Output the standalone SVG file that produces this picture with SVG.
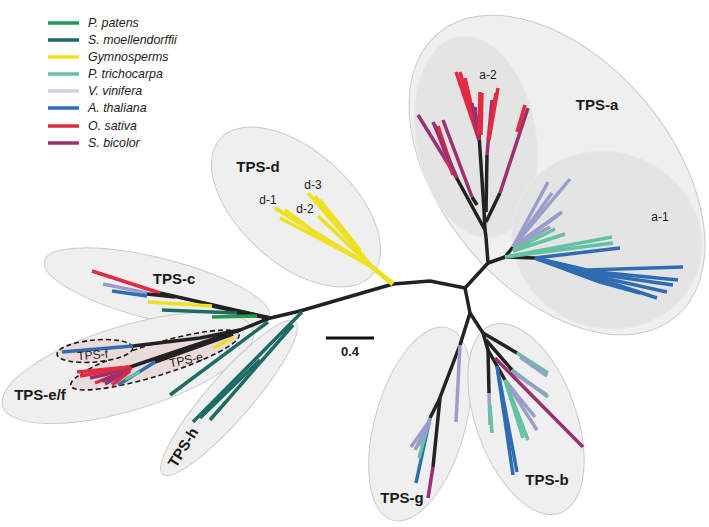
<svg xmlns="http://www.w3.org/2000/svg" width="709" height="527" viewBox="0 0 709 527">
<style>
.bg{fill:#efefef;stroke:#cbcbcb;stroke-width:1}
.in{fill:#e4e4e4;stroke:#eaeaea;stroke-width:1}
.dash{fill:#eadada;stroke:#1a1a1a;stroke-width:1.6;stroke-dasharray:5 3}
.b{fill:none;stroke-width:3.5;stroke-linecap:butt;stroke-linejoin:round}
.K{stroke:#222}
.Y{stroke:#f0e024}
.T{stroke:#1e6b66}
.G{stroke:#1f9a4a}
.M{stroke:#62c2a2}
.L{stroke:#9a9ccb}
.LL{stroke:#cdd0e2}
.B{stroke:#2f6cb2}
.R{stroke:#e32a40}
.P{stroke:#9a2f72}
.lt{font-family:"Liberation Sans",Arial,sans-serif;font-size:12.4px;font-style:italic;fill:#1a1a1a}
.cl{font-family:"Liberation Sans",Arial,sans-serif;font-size:15px;font-weight:bold;fill:#1a1a1a;text-anchor:middle}
.sub{font-family:"Liberation Sans",Arial,sans-serif;font-size:12px;fill:#1a1a1a;text-anchor:middle}
</style>
<rect width="709" height="527" fill="#ffffff"/>
<g id="legend">
<line class="b G" x1="48" y1="23" x2="79" y2="23"/><text class="lt" x="88" y="27">P. patens</text>
<line class="b T" x1="48" y1="40" x2="79" y2="40"/><text class="lt" x="88" y="44">S. moellendorffii</text>
<line class="b Y" x1="48" y1="57" x2="79" y2="57"/><text class="lt" x="88" y="61">Gymnosperms</text>
<line class="b M" x1="48" y1="74" x2="79" y2="74"/><text class="lt" x="88" y="78">P. trichocarpa</text>
<line class="b LL" x1="48" y1="91" x2="79" y2="91"/><text class="lt" x="88" y="95">V. vinifera</text>
<line class="b B" x1="48" y1="108" x2="79" y2="108"/><text class="lt" x="88" y="112">A. thaliana</text>
<line class="b R" x1="48" y1="126" x2="79" y2="126"/><text class="lt" x="88" y="130">O. sativa</text>
<line class="b P" x1="48" y1="143" x2="79" y2="143"/><text class="lt" x="88" y="147">S. bicolor</text>
</g>
<g id="regions">
<ellipse class="bg" cx="557" cy="175" rx="185" ry="115" transform="rotate(50 557 175)"/>
<ellipse class="in" cx="476" cy="137" rx="60" ry="102" transform="rotate(-10 476 137)"/>
<ellipse class="in" cx="607" cy="240" rx="96" ry="88" transform="rotate(20 607 240)"/>
<ellipse class="bg" cx="296" cy="207" rx="102" ry="56" transform="rotate(42 296 207)"/>
<ellipse class="bg" cx="157" cy="289" rx="116" ry="31" transform="rotate(14 157 289)"/>
<ellipse class="bg" cx="128" cy="368" rx="131" ry="42" transform="rotate(-17 128 368)"/>
<ellipse class="bg" cx="229" cy="398" rx="101" ry="22" transform="rotate(-49 229 398)"/>
<ellipse class="bg" cx="420" cy="424" rx="45" ry="100" transform="rotate(16 420 424)"/>
<ellipse class="bg" cx="526" cy="419" rx="50" ry="100" transform="rotate(-20 526 419)"/>
<ellipse class="dash" cx="155" cy="360" rx="88" ry="16" transform="rotate(-17 155 360)"/>
<ellipse class="dash" cx="95" cy="351" rx="38" ry="11" transform="rotate(-5 95 351)"/>
</g>
<g id="tree">
<!-- backbone -->
<path class="b K" d="M262,320 L300,311 L393,284 L430,281 L465,288 L488,263 L486,237"/>
<path class="b K" d="M465,288 L470,313 L483,333"/>
<!-- TPS-a / a-2 -->
<path class="b K" d="M486,237 L485,230 L455,175"/>
<path class="b P" d="M455,175 L418,115"/>
<path class="b R" d="M453,175 L435,125"/>
<path class="b R" d="M450,162 L438,126"/>
<path class="b P" d="M457,178 L433,122"/>
<path class="b K" d="M477,205 L472,197"/>
<path class="b P" d="M472,197 L443,120"/>
<path class="b K" d="M485,230 L484,210 L479,135"/>
<path class="b R" d="M479,140 L456,72"/>
<path class="b R" d="M479,140 L460,72"/>
<path class="b R" d="M477,130 L465,78"/>
<path class="b P" d="M479,140 L472,103"/>
<path class="b P" d="M479,140 L475,107"/>
<path class="b R" d="M479,135 L480,92"/>
<path class="b R" d="M481,135 L482,93"/>
<path class="b K" d="M486,212 L487,155"/>
<path class="b P" d="M487,155 L492,100"/>
<path class="b R" d="M489,140 L498,88"/>
<path class="b R" d="M488,140 L496,93"/>
<path class="b K" d="M486,222 L500,193"/>
<path class="b P" d="M500,193 L528,108"/>
<path class="b R" d="M517,132 L525,105"/>
<!-- a-1 -->
<path class="b K" d="M488,263 L505,257 L535,258"/>
<path class="b K" d="M505,257 L513,247"/>
<path class="b L" d="M513,247 L548,182"/>
<path class="b L" d="M513,247 L570,179"/>
<path class="b L" d="M513,247 L552,193"/>
<path class="b L" d="M513,247 L562,212"/>
<path class="b L" d="M513,247 L557,216"/>
<path class="b L" d="M513,247 L550,227"/>
<path class="b M" d="M513,250 L555,229"/>
<path class="b M" d="M513,251 L565,234"/>
<path class="b M" d="M505,257 L612,237"/>
<path class="b M" d="M505,257 L613,243"/>
<path class="b B" d="M535,258 L620,248"/>
<path class="b B" d="M535,258 L587,270 L683,267"/>
<path class="b B" d="M535,258 L587,271 L678,280"/>
<path class="b B" d="M535,258 L590,273 L673,285"/>
<path class="b B" d="M535,258 L590,275 L667,292"/>
<path class="b B" d="M535,258 L590,276 L657,298"/>
<path class="b B" d="M535,258 L600,282 L640,293"/>
<!-- TPS-g -->
<path class="b K" d="M470,313 L460,345 L439,400 L430,418"/>
<path class="b L" d="M460,345 L456,422"/>
<path class="b B" d="M430,418 L416,483"/>
<path class="b M" d="M430,418 L419,458"/>
<path class="b L" d="M430,420 L411,447"/>
<path class="b L" d="M429,423 L415,450"/>
<path class="b L" d="M430,422 L418,446"/>
<path class="b K" d="M440,398 L433,467"/>
<path class="b P" d="M433,467 L428,498"/>
<!-- TPS-b -->
<path class="b K" d="M483,333 L517,353"/>
<path class="b M" d="M517,353 L548,373"/>
<path class="b L" d="M520,357 L547,376"/>
<path class="b K" d="M483,333 L488,350 L489,393"/>
<path class="b L" d="M489,393 L490,425"/>
<path class="b M" d="M490,405 L492,433"/>
<path class="b K" d="M486,340 L512,370"/>
<path class="b M" d="M512,370 L548,397"/>
<path class="b L" d="M512,372 L547,395"/>
<path class="b K" d="M488,350 L505,380"/>
<path class="b L" d="M505,380 L537,430"/>
<path class="b L" d="M505,380 L535,417"/>
<path class="b M" d="M505,380 L528,440"/>
<path class="b M" d="M505,380 L523,438"/>
<path class="b P" d="M495,358 L583,447"/>
<path class="b B" d="M497,366 L513,475"/>
<path class="b B" d="M497,366 L517,472"/>
<!-- TPS-d -->
<path class="b Y" style="stroke-width:5" d="M393,284 L372,267"/>
<path class="b Y" style="stroke-width:4" d="M372,267 L275,208"/>
<path class="b Y" d="M345,252 L280,218"/>
<path class="b Y" d="M330,244 L285,210"/>
<path class="b Y" d="M372,267 L308,193"/>
<path class="b Y" d="M372,267 L315,196"/>
<path class="b Y" d="M360,250 L320,200"/>
<path class="b Y" d="M372,267 L318,216"/>
<path class="b Y" style="stroke-width:4" d="M372,267 L325,240"/>
<!-- TPS-c -->
<path class="b K" d="M270,318 L160,293"/>
<path class="b R" d="M160,293 L92,271"/>
<path class="b K" d="M175,297 L147,294"/>
<path class="b L" d="M147,293 L103,284"/>
<path class="b B" d="M147,296 L112,291"/>
<path class="b K" d="M270,318 L212,306"/>
<path class="b Y" d="M212,306 L148,302"/>
<path class="b K" d="M270,318 L237,313"/>
<path class="b T" d="M237,313 L162,310"/>
<path class="b G" d="M257,316 L212,317"/>
<!-- TPS-e/f -->
<path class="b K" d="M270,318 L240,330 L200,338 L133,346"/>
<path class="b B" d="M133,346 L62,352"/>
<path class="b K" d="M240,330 L130,367"/>
<path class="b K" d="M233,334 L155,362"/>
<path class="b R" d="M130,367 L77,372"/>
<path class="b R" d="M130,367 L80,376"/>
<path class="b P" d="M130,369 L90,378"/>
<path class="b R" d="M132,368 L95,383"/>
<path class="b P" d="M130,370 L102,381"/>
<path class="b P" d="M130,370 L105,384"/>
<path class="b R" d="M130,371 L112,385"/>
<path class="b R" d="M130,367 L88,372"/>
<path class="b B" d="M155,362 L118,385"/>
<path class="b M" d="M140,372 L125,379"/>
<path class="b Y" d="M233,338 L213,348"/>
<path class="b T" d="M268,322 L170,395"/>
<!-- TPS-h -->
<path class="b T" d="M302,312 L193,422"/>
<path class="b T" d="M293,325 L210,420"/>
<path class="b T" d="M260,360 L200,418"/>
</g>
<g id="scale">
<line x1="326" y1="338" x2="374" y2="338" stroke="#111" stroke-width="3"/>
<text x="350" y="356" style="font-family:'Liberation Sans',Arial,sans-serif;font-size:13px;font-weight:bold;text-anchor:middle;fill:#1a1a1a">0.4</text>
</g>
<g id="labels">
<text class="cl" x="597" y="110">TPS-a</text>
<text class="sub" x="488" y="79">a-2</text>
<text class="sub" x="660" y="221">a-1</text>
<text class="cl" x="258" y="172">TPS-d</text>
<text class="sub" x="268" y="204">d-1</text>
<text class="sub" x="313" y="189">d-3</text>
<text class="sub" x="305" y="213">d-2</text>
<text class="cl" x="174" y="284">TPS-c</text>
<text class="cl" x="40" y="400">TPS-e/f</text>
<text class="sub" x="93" y="359" transform="rotate(-5 93 359)">TPS-f</text>
<text class="sub" x="187" y="364" transform="rotate(-12 187 364)">TPS-e</text>
<text class="cl" x="184" y="452" transform="rotate(-58 184 448)">TPS-h</text>
<text class="cl" x="402" y="503">TPS-g</text>
<text class="cl" x="547" y="485">TPS-b</text>
</g>
</svg>
